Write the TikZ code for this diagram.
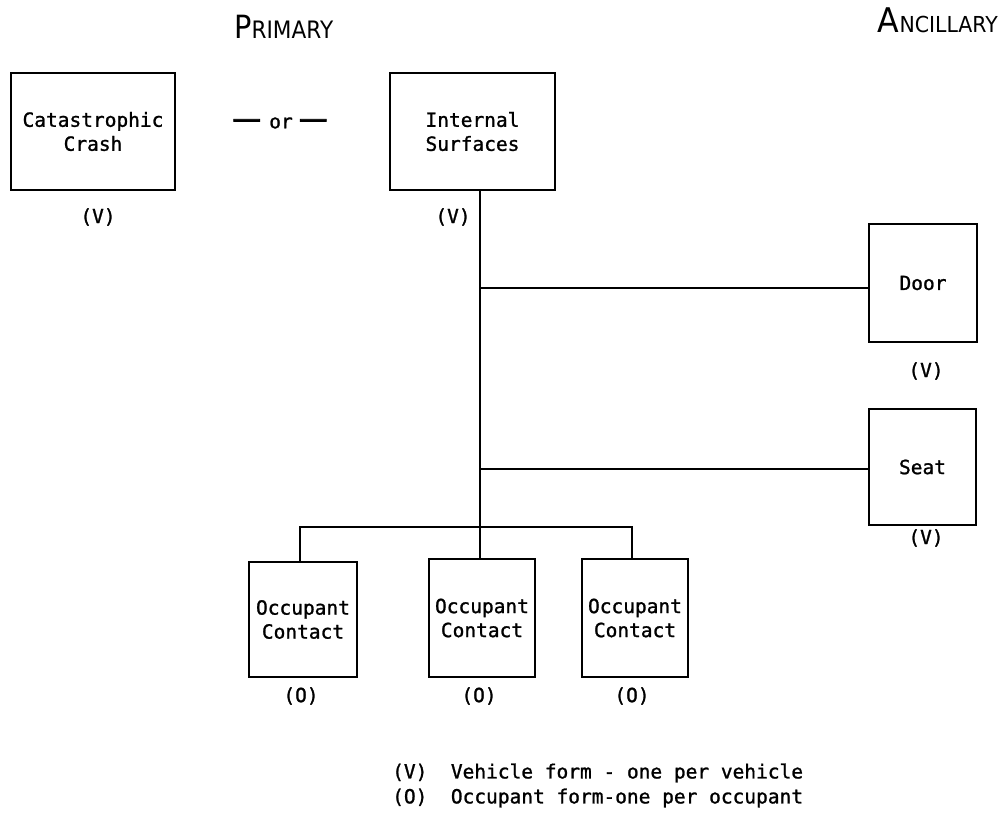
\documentclass[tikz,border=0pt]{standalone}
\usepackage{fontspec}
\setmainfont{DejaVu Sans}
\newfontfamily\monof[FakeBold=1.2]{DejaVu Sans Mono}
\newfontfamily\dashf[FakeBold=2.5]{DejaVu Sans}
\newcommand{\mtext}{\monof\fontsize{19.5}{24}\selectfont}
\begin{document}
\begin{tikzpicture}[x=1pt,y=-1pt,
  box/.style={draw, line width=2pt, inner sep=0pt, align=center, font=\mtext},
  lbl/.style={inner sep=0pt, font=\mtext},
  conn/.style={line width=2pt}]
\useasboundingbox (0,0) rectangle (1006,816);
% headings
\node[inner sep=0pt, anchor=base west] (prim) at (234,39)
  {\scalebox{0.9}[1]{\fontsize{32}{32}\selectfont P\fontsize{24}{24}\selectfont RIMARY}};
\node[inner sep=0pt, anchor=base east] (anc) at (998,33)
  {\scalebox{0.93}[1]{\fontsize{34}{34}\selectfont A\fontsize{22}{22}\selectfont NCILLARY}};
% boxes
\node[box, minimum width=164pt, minimum height=117pt] (cat) at (93,131.5) {Catastrophic\\Crash};
\node[box, minimum width=165pt, minimum height=117pt] (int) at (472.5,131.5) {Internal\\Surfaces};
\node[box, minimum width=108pt, minimum height=118pt] (door) at (923,283) {Door};
\node[box, minimum width=107pt, minimum height=116pt] (seat) at (922.5,467) {Seat};
\node[box, minimum width=108pt, minimum height=115pt] (occ1) at (303,619.5) {Occupant\\Contact};
\node[box, minimum width=106pt, minimum height=118pt] (occ2) at (482,618) {Occupant\\Contact};
\node[box, minimum width=106pt, minimum height=118pt] (occ3) at (635,618) {Occupant\\Contact};
% or
\node[inner sep=0pt] (or) at (280,123)
  {{\dashf\fontsize{29}{29}\selectfont —}\hspace{8pt}{\mtext or}\hspace{6pt}{\dashf\fontsize{29}{29}\selectfont —}};
% labels
\node[lbl] (vcat) at (98,217) {(V)};
\node[lbl] (vint) at (453,217) {(V)};
\node[lbl] (vdoor) at (926,371) {(V)};
\node[lbl] (vseat) at (926,538) {(V)};
\node[lbl] (o1) at (301,696) {(O)};
\node[lbl] (o2) at (479,696) {(O)};
\node[lbl] (o3) at (632,696) {(O)};
% legend
\node[lbl, anchor=west] (leg1) at (392,773) {(V)\ \ Vehicle form - one per vehicle};
\node[lbl, anchor=west] (leg2) at (392,798) {(O)\ \ Occupant form-one per occupant};
% connectors
\coordinate (j1) at (480,288);
\coordinate (j2) at (480,469);
\coordinate (j3) at (480,527);
\coordinate (h1) at (300,527);
\coordinate (h3) at (632,527);
\draw[conn] (int.south -| j3) -- (occ2.north -| j3);
\draw[conn] (j1) -- (door.west |- j1);
\draw[conn] (j2) -- (seat.west |- j2);
\draw[conn] (occ1.north -| h1) -- (h1) -- (h3) -- (occ3.north -| h3);
\end{tikzpicture}
\end{document}
